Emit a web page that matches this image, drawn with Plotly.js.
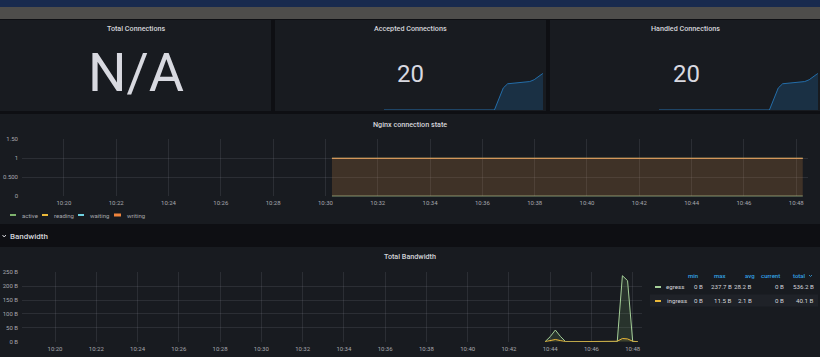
<!DOCTYPE html>
<html>
<head>
<meta charset="utf-8">
<script src="https://cdn.plot.ly/plotly-3.0.1.min.js"></script>
<style>
html,body{margin:0;padding:0;background:#0e0f13;}
#chart{width:820px;height:357px;}
</style>
</head>
<body>
<div id="chart"></div>
<script>
// ---------- DATA ----------
const statTitles = ["Total Connections", "Accepted Connections", "Handled Connections"];
const statValues = ["N/A", "20", "20"];

const sparkTimes = ["2024-01-01 10:30:00", "2024-01-01 10:36:00", "2024-01-01 10:42:30", "2024-01-01 10:43:00",
  "2024-01-01 10:43:30", "2024-01-01 10:44:00", "2024-01-01 10:45:00", "2024-01-01 10:46:00",
  "2024-01-01 10:46:30", "2024-01-01 10:47:00", "2024-01-01 10:47:30", "2024-01-01 10:48:00"];
const acceptedSpark = [0, 0, 0, 6, 12, 14.3, 14.8, 15.2, 15.5, 16.5, 18.3, 20];
const handledSpark  = [0, 0, 0, 6, 12, 14.3, 14.8, 15.2, 15.5, 16.5, 18.3, 20];

const nginxTimes = ["2024-01-01 10:30:15", "2024-01-01 10:31:15", "2024-01-01 10:32:15", "2024-01-01 10:33:15",
  "2024-01-01 10:34:15", "2024-01-01 10:35:15", "2024-01-01 10:36:15", "2024-01-01 10:37:15",
  "2024-01-01 10:38:15", "2024-01-01 10:39:15", "2024-01-01 10:40:15", "2024-01-01 10:41:15",
  "2024-01-01 10:42:15", "2024-01-01 10:43:15", "2024-01-01 10:44:15", "2024-01-01 10:45:15",
  "2024-01-01 10:46:15", "2024-01-01 10:47:15", "2024-01-01 10:48:15"];
const activeVals  = [1,1,1,1,1,1,1,1,1,1,1,1,1,1,1,1,1,1,1];
const readingVals = [0,0,0,0,0,0,0,0,0,0,0,0,0,0,0,0,0,0,0];
const waitingVals = [0,0,0,0,0,0,0,0,0,0,0,0,0,0,0,0,0,0,0];
const writingVals = [1,1,1,1,1,1,1,1,1,1,1,1,1,1,1,1,1,1,1];
const nginxSeries = ["active", "reading", "waiting", "writing"];
const nginxYTicks = [0, 0.5, 1, 1.5];
const nginxYTickText = ["0", "0.500", "1", "1.50"];

const bwTimes = ["2024-01-01 10:43:45", "2024-01-01 10:44:00", "2024-01-01 10:44:15", "2024-01-01 10:44:30",
  "2024-01-01 10:44:45", "2024-01-01 10:45:00", "2024-01-01 10:45:15", "2024-01-01 10:45:30",
  "2024-01-01 10:45:45", "2024-01-01 10:46:00", "2024-01-01 10:46:15", "2024-01-01 10:46:30",
  "2024-01-01 10:46:45", "2024-01-01 10:47:00", "2024-01-01 10:47:15", "2024-01-01 10:47:30",
  "2024-01-01 10:47:45", "2024-01-01 10:48:00", "2024-01-01 10:48:15"];
const egressVals  = [0, 18, 42, 18.5, 0, 0, 0, 0, 0, 0, 0, 0, 0, 0, 0, 237.7, 220, 0, 0];
const ingressVals = [0, 3.5, 8, 4, 0, 0, 0, 0, 0, 0, 0, 0, 0, 0, 1.5, 11.5, 10, 1.6, 0];
const bwSeries = ["egress", "ingress"];
const bwColumns = ["min", "max", "avg", "current", "total"];
const egressStats  = ["0 B", "237.7 B", "28.2 B", "0 B", "536.2 B"];
const ingressStats = ["0 B", "11.5 B", "2.1 B", "0 B", "40.1 B"];

const timeRange = ["2024-01-01 10:18:24", "2024-01-01 10:48:27"];

// ---------- LAYOUT HELPERS ----------
const W = 820, H = 357;
const X = p => p / W, Y = p => 1 - p / H;
const FONT = "Roboto, 'DejaVu Sans', sans-serif";
const TXT = "#d4d5da";
const TICK = "#a6a7ad";
const GRID = "rgba(204,204,220,0.11)";
const PANEL = "#181b20";
const C = {active: "#7EB26D", reading: "#EAB839", waiting: "#6ED0E0", writing: "#E9955A",
           egress: "#a5cf98", ingress: "#EAB839", spark: "rgb(36,110,170)"};

function rect(x0, y0, x1, y1, color) {
  return {type: "rect", xref: "paper", yref: "paper", x0: X(x0), x1: X(x1), y0: Y(y1), y1: Y(y0),
          fillcolor: color, line: {width: 0}, layer: "below"};
}
function seg(x0, x1, y, color, w) {
  return {type: "line", xref: "paper", yref: "paper", x0: X(x0), x1: X(x1), y0: Y(y), y1: Y(y),
          line: {color: color, width: w || 2}};
}
function txt(text, x, y, size, color, xanchor, weight) {
  return {text: text, xref: "paper", yref: "paper", x: X(x), y: Y(y), showarrow: false,
          xanchor: xanchor || "center", yanchor: "middle",
          font: {family: FONT, size: size, color: color || TXT, weight: weight || 400}};
}

// ---------- TRACES ----------
const traces = [];
traces.push({x: sparkTimes, y: acceptedSpark, xaxis: "x3", yaxis: "y3", type: "scatter", mode: "lines",
  line: {color: C.spark, width: 1}, fill: "tozeroy", fillcolor: "rgba(31,110,175,0.25)", showlegend: false, hoverinfo: "skip"});
traces.push({x: sparkTimes, y: handledSpark, xaxis: "x4", yaxis: "y4", type: "scatter", mode: "lines",
  line: {color: C.spark, width: 1}, fill: "tozeroy", fillcolor: "rgba(31,110,175,0.25)", showlegend: false, hoverinfo: "skip"});
const nginxVals = [activeVals, readingVals, waitingVals, writingVals];
const nginxFill = ["rgba(126,178,109,0.05)", "rgba(234,184,57,0.0)", "rgba(110,208,224,0.0)", "rgba(239,132,60,0.17)"];
nginxSeries.forEach((name, i) => {
  traces.push({x: nginxTimes, y: nginxVals[i], xaxis: "x", yaxis: "y", type: "scatter", mode: "lines", name: name,
    line: {color: C[name], width: 1}, fill: "tozeroy", fillcolor: nginxFill[i], showlegend: false});
});
traces.push({x: bwTimes, y: egressVals, xaxis: "x2", yaxis: "y2", type: "scatter", mode: "lines", name: "egress",
  line: {color: C.egress, width: 1}, fill: "tozeroy", fillcolor: "rgba(126,178,109,0.16)", showlegend: false});
traces.push({x: bwTimes, y: ingressVals, xaxis: "x2", yaxis: "y2", type: "scatter", mode: "lines", name: "ingress",
  line: {color: C.ingress, width: 1}, fill: "tozeroy", fillcolor: "rgba(234,184,57,0.12)", showlegend: false});

// ---------- SHAPES ----------
const shapes = [
  rect(0, 0, 820, 7, "#182a4e"),
  rect(0, 7, 820, 19, "#4e4d4b"),
  rect(0, 20, 271, 111, PANEL),
  rect(275, 20, 546, 111, PANEL),
  rect(550, 20, 820, 111, PANEL),
  rect(0, 114, 820, 224, PANEL),
  rect(0, 247, 820, 357, PANEL),
  rect(650, 294.5, 818, 306.5, "#1f2228"),
  seg(10, 16, 215, C.active), seg(42, 48, 215, C.reading), seg(78, 84, 215, C.waiting), seg(114, 121, 215, "#EF843C", 3),
  seg(655, 661, 287, C.egress), seg(655, 661, 301, C.ingress),
  {type: "path", xref: "paper", yref: "paper", path: `M ${X(2.5)} ${Y(235)} L ${X(4.2)} ${Y(237)} L ${X(5.9)} ${Y(235)}`,
   line: {color: TXT, width: 1}},
  {type: "path", xref: "paper", yref: "paper", path: `M ${X(809)} ${Y(275)} L ${X(810.5)} ${Y(276.5)} L ${X(812)} ${Y(275)}`,
   line: {color: "#33a2e5", width: 0.8}}
];

// ---------- ANNOTATIONS ----------
const ann = [
  txt(statTitles[0], 136, 28.5, 7.2, TXT, "center", 500),
  txt(statTitles[1], 410, 28.5, 7.2, TXT, "center", 500),
  txt(statTitles[2], 685, 28.5, 7.2, TXT, "center", 500),
  txt(statValues[0], 136, 73, 54, "#d8d9e0"),
  txt(statValues[1], 410, 74, 24, "#d8d9e0"),
  txt(statValues[2], 686, 74, 24, "#d8d9e0"),
  txt("Nginx connection state", 410, 124, 7.2, TXT, "center", 500),
  txt("Bandwidth", 8, 236.5, 8, TXT, "left", 500),
  txt("Total Bandwidth", 410, 256, 7.2, TXT, "center", 500),
  txt(nginxSeries[0], 19.5, 215, 6, TICK, "left"),
  txt(nginxSeries[1], 52, 215, 6, TICK, "left"),
  txt(nginxSeries[2], 88, 215, 6, TICK, "left"),
  txt(nginxSeries[3], 124.5, 215, 6, TICK, "left"),
  txt(bwSeries[0], 664, 287, 6.2, TXT, "left"),
  txt(bwSeries[1], 664.5, 301, 6.2, TXT, "left")
];
const headRight = [700, 727, 757, 782, 808];
const valRight  = [704.5, 733.5, 754, 786, 815.5];
bwColumns.forEach((c, i) => ann.push(txt(c, headRight[i], 275.7, 6, "#33a2e5", "right", 500)));
egressStats.forEach((v, i) => ann.push(txt(v, valRight[i], 287, 6.2, TXT, "right")));
ingressStats.forEach((v, i) => ann.push(txt(v, valRight[i], 301, 6.2, TXT, "right")));

// ---------- AXES ----------
const dateAxis = (dom, anchor) => ({
  domain: dom, anchor: anchor, type: "date", range: timeRange,
  tick0: "2024-01-01 10:20:00", dtick: 120000, tickformat: "%H:%M",
  showgrid: true, gridcolor: GRID, gridwidth: 1, zeroline: false, showline: false, ticks: "",
  tickfont: {family: FONT, size: 6, color: TICK}, ticklabelstandoff: 2, fixedrange: true
});

const layout = {
  width: W, height: H, margin: {l: 0, r: 0, t: 0, b: 0},
  paper_bgcolor: "#0e0f13", plot_bgcolor: "rgba(0,0,0,0)",
  showlegend: false, hovermode: false,
  xaxis: dateAxis([X(22), X(808)], "y"),
  yaxis: {domain: [Y(196.3), Y(139.3)], range: [0, 1.5], anchor: "x",
    tickvals: nginxYTicks, ticktext: nginxYTickText, showgrid: true, gridcolor: GRID, zeroline: false,
    showline: false, ticks: "", tickfont: {family: FONT, size: 6, color: TICK}, ticklabelstandoff: 3, fixedrange: true},
  xaxis2: dateAxis([X(22), X(642)], "y2"),
  yaxis2: {domain: [Y(341.7), Y(272.3)], range: [0, 250], anchor: "x2", dtick: 50, ticksuffix: " B",
    showgrid: true, gridcolor: GRID, zeroline: false, showline: false, ticks: "",
    tickfont: {family: FONT, size: 6, color: TICK}, ticklabelstandoff: 3, fixedrange: true},
  xaxis3: {domain: [X(384), X(543)], anchor: "y3", type: "date", range: ["2024-01-01 10:30:00", "2024-01-01 10:48:00"], visible: false},
  yaxis3: {domain: [Y(110), Y(73.3)], anchor: "x3", range: [0, 20], visible: false},
  xaxis4: {domain: [X(659), X(818)], anchor: "y4", type: "date", range: ["2024-01-01 10:30:00", "2024-01-01 10:48:00"], visible: false},
  yaxis4: {domain: [Y(110), Y(73.3)], anchor: "x4", range: [0, 20], visible: false},
  shapes: shapes,
  annotations: ann
};

Plotly.newPlot("chart", traces, layout, {displayModeBar: false, staticPlot: true});
</script>
</body>
</html>
